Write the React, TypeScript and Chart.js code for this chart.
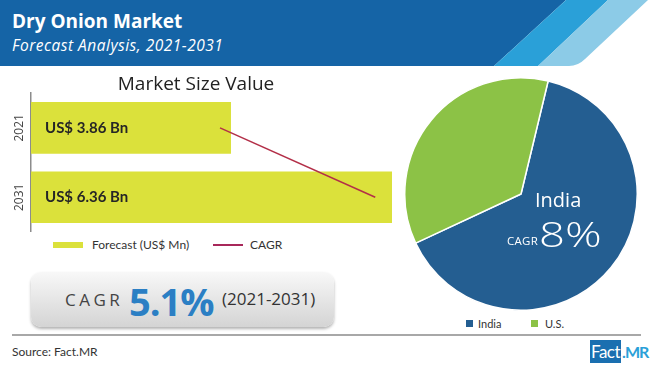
import React, { useEffect, useRef } from "react";
import { Chart, registerables } from "chart.js";

Chart.register(...registerables);

// ---- data ----
const years = ["2021", "2031"];
const marketValues = [3.86, 6.36]; // US$ Bn
const cagrLine = [3.69, 6.1];
const valueAxisMin = 0.755;
const valueAxisMax = 6.36;
const regions = ["India", "U.S."];
const regionShares = [64.3, 35.7];
const regionColors = ["#245e91", "#8cc246"];
const overallCagr = "5.1%";
const cagrPeriod = "(2021-2031)";
const indiaCagr = "8%";

const SANS = '"Open Sans", sans-serif';
const CAL = 'Lato, "Open Sans", sans-serif';
const BAR_COLOR = "#dbe13b";
const LINE_COLOR = "#b32f48";

const barDecor = {
  id: "barDecor",
  afterDatasetsDraw(chart: any) {
    const { ctx, chartArea } = chart;
    const meta = chart.getDatasetMeta(1);
    const yScale = chart.scales.y;
    ctx.save();
    ctx.font = `bold 15px ${CAL}`;
    ctx.fillStyle = "#262626";
    ctx.textBaseline = "middle";
    ctx.textAlign = "left";
    meta.data.forEach((bar: any, i: number) => {
      ctx.fillText(`US$ ${marketValues[i].toFixed(2)} Bn`, chartArea.left + 14, bar.y);
    });
    ctx.font = `12px ${SANS}`;
    ctx.fillStyle = "#444";
    ctx.textAlign = "center";
    years.forEach((yr, i) => {
      const y = yScale.getPixelForValue(i);
      ctx.save();
      ctx.translate(20, y);
      ctx.rotate(-Math.PI / 2);
      ctx.fillText(yr, 0, 0);
      ctx.restore();
    });
    ctx.restore();
  },
};

function BarChart() {
  const ref = useRef<HTMLCanvasElement>(null);
  useEffect(() => {
    const chart = new Chart(ref.current!, {
      type: "bar",
      data: {
        labels: years,
        datasets: [
          {
            type: "line",
            label: "CAGR",
            data: cagrLine,
            borderColor: LINE_COLOR,
            borderWidth: 1.5,
            pointRadius: 0,
            indexAxis: "y",
            order: 0,
            clip: false,
          } as any,
          {
            type: "bar",
            label: "Forecast (US$ Mn)",
            data: marketValues,
            backgroundColor: BAR_COLOR,
            categoryPercentage: 1,
            barPercentage: 0.744,
            clip: 0,
            order: 1,
          } as any,
        ],
      },
      options: {
        indexAxis: "y",
        animation: false,
        responsive: false,
        maintainAspectRatio: false,
        layout: { padding: 0 },
        plugins: {
          legend: { display: false },
          tooltip: { enabled: false },
          title: {
            display: true,
            text: "Market Size Value",
            color: "#222",
            font: { family: SANS, size: 19, weight: "normal", lineHeight: 0.9 },
            padding: { top: 10, bottom: 0 },
          },
        },
        scales: {
          x: { display: false, min: valueAxisMin, max: valueAxisMax },
          y: {
            grid: { display: false },
            border: { display: true, color: "#8c8c8c", width: 1.5 },
            ticks: { display: false },
            afterFit: (s: any) => {
              s.width = 31;
            },
          },
        },
      } as any,
      plugins: [barDecor],
    });
    return () => chart.destroy();
  }, []);
  return (
    <canvas
      ref={ref}
      width={392}
      height={166}
      style={{ position: "absolute", left: 0, top: 66, width: 392, height: 166 }}
    />
  );
}

function PieChart() {
  const ref = useRef<HTMLCanvasElement>(null);
  useEffect(() => {
    const chart = new Chart(ref.current!, {
      type: "pie",
      data: {
        labels: regions,
        datasets: [
          {
            data: regionShares,
            backgroundColor: regionColors,
            borderColor: "#ffffff",
            borderWidth: 1.5,
          },
        ],
      },
      options: {
        animation: false,
        responsive: false,
        maintainAspectRatio: false,
        rotation: 13.5,
        layout: { padding: 0 },
        plugins: { legend: { display: false }, tooltip: { enabled: false } },
      } as any,
    });
    return () => chart.destroy();
  }, []);
  return (
    <canvas
      ref={ref}
      width={234}
      height={234}
      style={{ position: "absolute", left: 404, top: 77, width: 234, height: 234 }}
    />
  );
}

const abs = (left: number, top: number, extra: React.CSSProperties = {}): React.CSSProperties => ({
  position: "absolute",
  left,
  top,
  whiteSpace: "nowrap",
  lineHeight: 1,
  ...extra,
});

export default function App() {
  return (
    <div
      style={{
        position: "absolute",
        left: 0,
        top: 0,
        width: 650,
        height: 368,
        overflow: "hidden",
        background: "#ffffff",
        fontFamily: SANS,
      }}
    >
      <svg width={650} height={66} style={{ position: "absolute", left: 0, top: 0 }}>
        <path d="M0 0 H566 L494 66 H0 Z" fill="#1564a6" />
        <path d="M566 0 H608 L538 66 H494 Z" fill="#2aa0d8" />
        <path d="M608 0 H648 L585 59 Q578 66 569 66 H538 Z" fill="#8ccbe7" />
      </svg>
      <div style={abs(12, 12, { color: "#fff", fontSize: 19, fontWeight: 700 })}>Dry Onion Market</div>
      <div style={abs(12, 38, { color: "#fff", fontSize: 15.5, fontStyle: "italic", letterSpacing: 0.5 })}>
        Forecast Analysis, 2021-2031
      </div>

      <BarChart />

      <div style={abs(53, 242, { width: 30, height: 6, background: BAR_COLOR })} />
      <div style={abs(92, 239, { fontFamily: CAL, fontSize: 12, color: "#333" })}>Forecast (US$ Mn)</div>
      <div style={abs(213, 244, { width: 30, height: 2, background: "#a8285a" })} />
      <div style={abs(250, 239, { fontFamily: CAL, fontSize: 12, color: "#333" })}>CAGR</div>

      <div
        style={abs(31, 272, {
          width: 303,
          height: 55,
          borderRadius: 10,
          background: "linear-gradient(#f8f8f8, #d4d4d4)",
          boxShadow: "0 2px 3px rgba(0,0,0,0.3)",
        })}
      >
        <span style={abs(34, 19, { fontSize: 17, letterSpacing: 3.5, color: "#444" })}>CAGR</span>
        <span style={abs(98, 10, { fontSize: 38, fontWeight: 700, color: "#2b7fc4", letterSpacing: -1 })}>
          {overallCagr}
        </span>
        <span style={abs(191, 18, { fontSize: 17, color: "#333" })}>{cagrPeriod}</span>
      </div>

      <PieChart />
      <div style={abs(535, 190, { color: "#fff", fontSize: 20 })}>{regions[0]}</div>
      <div style={abs(507, 235, { color: "#fff", fontSize: 11.5, letterSpacing: 0.3 })}>CAGR</div>
      <div
        style={abs(539, 216, {
          color: "#fff",
          fontSize: 35,
          fontWeight: 300,
          transform: "scaleX(1.3)",
          transformOrigin: "left center",
        })}
      >
        {indiaCagr}
      </div>

      <div style={abs(466, 320, { width: 7, height: 7, background: regionColors[0] })} />
      <div style={abs(478, 318, { fontFamily: CAL, fontSize: 11, color: "#333" })}>{regions[0]}</div>
      <div style={abs(531, 320, { width: 7, height: 7, background: regionColors[1] })} />
      <div style={abs(545, 318, { fontFamily: CAL, fontSize: 11, color: "#333" })}>{regions[1]}</div>

      <div style={abs(12, 334, { width: 629, height: 2, background: "#a8a8a8" })} />
      <div style={abs(12, 346, { fontFamily: CAL, fontSize: 12, color: "#333" })}>Source: Fact.MR</div>
      <div
        style={{
          position: "absolute",
          left: 590,
          top: 340,
          height: 23,
          display: "flex",
          alignItems: "stretch",
          fontFamily: CAL,
          whiteSpace: "nowrap",
        }}
      >
        <span
          style={{
            background: "#1a6fb0",
            color: "#fff",
            padding: "0 1px",
            fontSize: 17,
            letterSpacing: -0.5,
            lineHeight: "23px",
          }}
        >
          Fact
        </span>
        <span
          style={{ color: "#2aa0d8", fontWeight: 700, fontSize: 16, letterSpacing: -1, lineHeight: "24px", paddingLeft: 1 }}
        >
          .MR
        </span>
      </div>
    </div>
  );
}
